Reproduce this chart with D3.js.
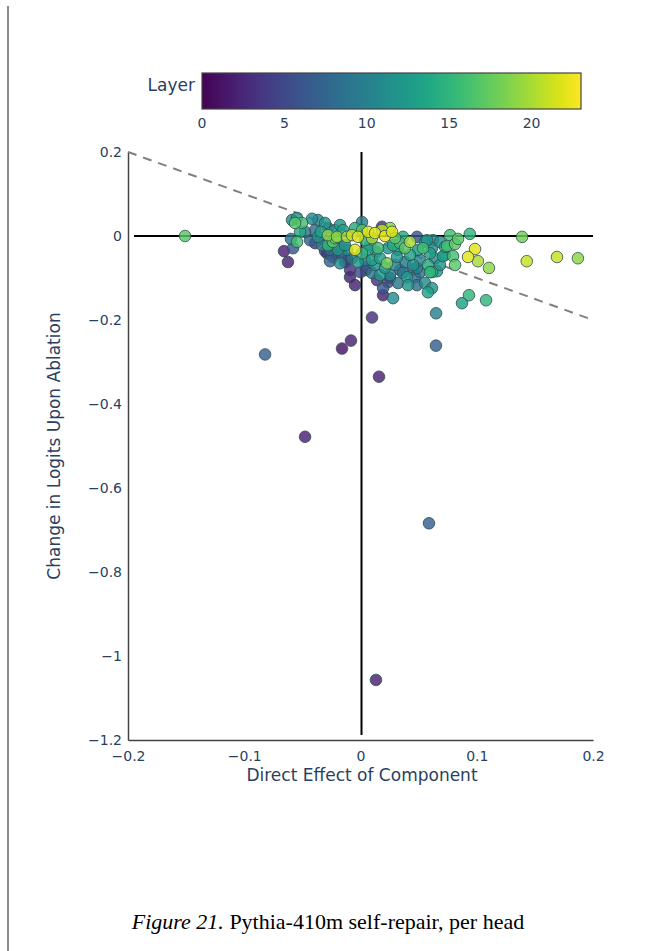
<!DOCTYPE html>
<html>
<head>
<meta charset="utf-8">
<script src="https://cdn.jsdelivr.net/npm/d3@7"></script>
<style>
  body { margin: 0; background: #fff; }
  .plot text { font-family: "DejaVu Sans", sans-serif; }
</style>
</head>
<body>
<div id="chart"></div>
<script>
// direct effect (x), change in logits (y), layer of each head
var xVals = [
  -0.151, -0.0821, -0.0477, -0.0159, -0.0082, 0.0099, 0.0159, 0.0589, 0.0133, 0.0649,
  0.065, 0.139, 0.143, 0.169, 0.187, 0.0985, 0.0925, 0.101, 0.1105, 0.0933,
  0.0873, 0.108, 0.077, 0.094, 0.0744, 0.0813, 0.0796, 0.071, 0.0624, 0.0615,
  0.0615, 0.0658, 0.0615, 0.058, 0.0839,
  -0.0546, -0.0563, -0.0503, -0.0589, -0.0598, -0.0546, -0.058, -0.0658, -0.0624,
  -0.0417, -0.0366, -0.0305, -0.0391, -0.034, -0.028, -0.0202, -0.015, -0.0116, -0.0073,
  -0.0022, 0.0013, -0.0047, -0.0391, -0.0331, -0.028, -0.0237, -0.0176, -0.0288, -0.0237,
  -0.0159, -0.0116, -0.0047, 0.0013, -0.009, 0.0, -0.0047, 0.0039, -0.0176, -0.0219,
  -0.028,
  0.0065, 0.0125, 0.0211, 0.0271, 0.0185, 0.0099, 0.0297, 0.0366, 0.0426, 0.0486,
  0.0555, 0.0727, 0.0727, 0.0065, 0.0151, 0.0237, 0.0323, 0.0383, 0.0495, 0.0538,
  0.0598, 0.0641, 0.0099, 0.0168, 0.0228, 0.0314, 0.0383, 0.0452, 0.0486, 0.0598,
  0.0099, 0.0168, 0.0254, 0.034, 0.04, 0.0469, 0.0142, 0.0237, 0.0486, 0.0555,
  0.0194, 0.028, 0.0813, 0.0185, 0.0512, 0.058, 0.0572, 0.0684,
  -0.0477, -0.0434, -0.0366, -0.0262, -0.0194, -0.0133, -0.0073, -0.0022, -0.0133, -0.0219,
  -0.0176, 0.0082, 0.0039, 0.0133, 0.028, 0.034, 0.0426, 0.0211, 0.0297, 0.0056,
  0.0125, 0.0409, 0.0323, 0.0512, 0.0684, -0.052, -0.0305, 0.0013, 0.0254,
  -0.0305, -0.0219, -0.0116, -0.0262, -0.009, 0.0047, 0.0194, 0.0254, 0.0366, 0.0452
];
var yVals = [
  0.000, -0.282, -0.478, -0.268, -0.249, -0.194, -0.335, -0.684, -1.057, -0.261,
  -0.184, -0.002, -0.060, -0.050, -0.053, -0.031, -0.050, -0.060, -0.076, -0.141,
  -0.160, -0.153, 0.002, 0.005, -0.024, -0.019, -0.048, -0.048, -0.010, -0.029,
  -0.086, -0.084, -0.124, -0.134, -0.007,
  0.043, 0.031, 0.031, 0.038, -0.007, -0.014, -0.029, -0.036, -0.062,
  0.041, 0.038, 0.031, 0.014, 0.010, 0.002, -0.002, 0.014, -0.002, 0.002,
  -0.002, 0.033, 0.019, -0.017, -0.022, -0.022, -0.014, -0.026, -0.041, -0.050,
  -0.045, -0.033, -0.033, -0.041, -0.081, -0.086, -0.117, -0.057, -0.065, -0.005,
  0.019,
  0.010, 0.007, 0.000, 0.010, 0.014, -0.005, -0.005, -0.002, -0.014, -0.002,
  -0.014, -0.026, -0.045, -0.033, -0.029, -0.029, -0.033, -0.029, -0.033, -0.029,
  -0.041, -0.053, -0.057, -0.053, -0.065, -0.050, -0.062, -0.069, -0.076, -0.086,
  -0.088, -0.093, -0.093, -0.081, -0.098, -0.098, -0.105, -0.110, -0.117, -0.112,
  -0.141, -0.148, -0.069, 0.022, -0.086, -0.069, -0.010, -0.014,
  0.010, -0.010, -0.002, -0.033, -0.033, -0.022, -0.053, -0.062, -0.062, 0.014,
  0.026, -0.022, -0.010, -0.038, -0.022, -0.017, -0.045, -0.076, -0.069, -0.074,
  -0.069, -0.117, -0.112, -0.057, -0.069, 0.010, -0.010, 0.014, 0.019,
  -0.036, -0.043, -0.055, -0.060, -0.098, -0.081, -0.124, -0.100, -0.088, -0.079
];
var layers = [
  17, 7, 2, 1, 2, 3, 2, 7, 2, 7,
  10, 18, 21, 21, 19, 22, 22, 20, 19, 15,
  13, 15, 16, 15, 16, 17, 16, 13, 11, 11,
  15, 12, 12, 13, 17,
  12, 17, 16, 11, 9, 16, 6, 2, 2,
  11, 10, 12, 8, 13, 19, 19, 13, 20, 21,
  22, 10, 14, 3, 10, 15, 17, 9, 2, 6,
  6, 11, 22, 15, 3, 5, 2, 10, 11, 18,
  10,
  22, 22, 22, 22, 21, 20, 17, 14, 20, 6,
  12, 14, 12, 13, 16, 12, 12, 17, 12, 16,
  13, 11, 13, 13, 18, 12, 9, 12, 10, 15,
  9, 12, 11, 7, 12, 8, 3, 5, 8, 11,
  2, 11, 17, 3, 8, 14, 12, 11,
  9, 7, 12, 8, 12, 12, 9, 12, 4, 11,
  12, 12, 15, 10, 14, 16, 13, 12, 10, 6,
  11, 12, 9, 10, 12, 14, 8, 17, 19,
  4, 3, 1, 7, 2, 4, 6, 3, 9, 5
];
var xTicks = [-0.2, -0.1, 0, 0.1, 0.2];
var yTicks = [0.2, 0, -0.2, -0.4, -0.6, -0.8, -1, -1.2];
var layerTicks = [0, 5, 10, 15, 20];

var W = 655, H = 951;
var txt = "#2a3f5f";

var svg = d3.select("#chart").append("svg")
  .attr("width", W).attr("height", H);

// page border on the left
svg.append("line")
  .attr("x1", 8).attr("x2", 8).attr("y1", 6).attr("y2", H)
  .attr("stroke", "#666").attr("stroke-width", 1.5);

var plot = svg.append("g").attr("class", "plot");

var x = d3.scaleLinear().domain([-0.2, 0.2]).range([128, 593]);
var y = d3.scaleLinear().domain([0.2, -1.2]).range([152, 740]);
var color = d3.scaleSequential(d3.interpolateViridis).domain([0, 23]);

function fmt(v) {
  if (v == 0) return "0";
  return (v < 0 ? "\u2212" : "") + String(Math.abs(v));
}

// axes
var gx = plot.append("g").attr("transform", "translate(0," + y(-1.2) + ")")
  .call(d3.axisBottom(x).tickValues(xTicks).tickFormat(fmt).tickSize(0).tickPadding(11));
var gy = plot.append("g").attr("transform", "translate(" + x(-0.2) + ",0)")
  .call(d3.axisLeft(y).tickValues(yTicks).tickFormat(fmt).tickSize(0).tickPadding(6));
[gx, gy].forEach(function(g) {
  g.select(".domain").attr("stroke", "#444").attr("stroke-width", 1.5);
  g.selectAll("text").attr("fill", txt).attr("font-size", 14);
});

// zero lines
plot.append("line")
  .attr("x1", x(-0.2) + 6).attr("x2", x(0.2))
  .attr("y1", y(0)).attr("y2", y(0))
  .attr("stroke", "#000").attr("stroke-width", 2);
plot.append("line")
  .attr("x1", x(0) + 1).attr("x2", x(0) + 1)
  .attr("y1", y(0.2)).attr("y2", y(-1.2) - 5)
  .attr("stroke", "#000").attr("stroke-width", 2);

// y = -x reference
plot.append("line")
  .attr("x1", x(-0.2)).attr("y1", y(0.2))
  .attr("x2", x(0.2)).attr("y2", y(-0.2))
  .attr("stroke", "#808080").attr("stroke-width", 2)
  .attr("stroke-dasharray", "9,7");

// points, later layers on top
var pts = d3.range(xVals.length).map(function(i) {
  return { x: xVals[i], y: yVals[i], layer: layers[i] };
});
pts.sort(function(a, b) { return a.layer - b.layer; });

plot.append("g").selectAll("circle")
  .data(pts)
  .enter().append("circle")
  .attr("cx", function(d) { return x(d.x); })
  .attr("cy", function(d) { return y(d.y); })
  .attr("r", 5.8)
  .attr("fill", function(d) { return color(d.layer); })
  .attr("fill-opacity", 0.82)
  .attr("stroke", "darkslategrey")
  .attr("stroke-opacity", 0.8)
  .attr("stroke-width", 1);

// axis titles
plot.append("text")
  .attr("x", 362).attr("y", 781)
  .attr("text-anchor", "middle").attr("fill", txt).attr("font-size", 17)
  .text("Direct Effect of Component");
plot.append("text")
  .attr("transform", "translate(60," + 446 + ") rotate(-90)")
  .attr("text-anchor", "middle").attr("fill", txt).attr("font-size", 17)
  .text("Change in Logits Upon Ablation");

// colorbar
var cb = d3.scaleLinear().domain([0, 23]).range([202, 581]);
var defs = svg.append("defs");
var grad = defs.append("linearGradient").attr("id", "viridis");
d3.range(0, 1.0001, 0.05).forEach(function(t) {
  grad.append("stop").attr("offset", (t * 100) + "%")
    .attr("stop-color", d3.interpolateViridis(t));
});
plot.append("rect")
  .attr("x", cb(0)).attr("y", 73)
  .attr("width", cb(23) - cb(0)).attr("height", 36)
  .attr("fill", "url(#viridis)")
  .attr("stroke", "#444").attr("stroke-width", 1.2);
plot.append("g").selectAll("text")
  .data(layerTicks)
  .enter().append("text")
  .attr("x", function(d) { return cb(d); })
  .attr("y", 128)
  .attr("text-anchor", "middle").attr("fill", txt).attr("font-size", 14)
  .text(function(d) { return d; });
plot.append("text")
  .attr("x", 195).attr("y", 91)
  .attr("text-anchor", "end").attr("fill", txt).attr("font-size", 17)
  .text("Layer");

// caption
var cap = svg.append("text")
  .attr("x", 328).attr("y", 929)
  .attr("text-anchor", "middle")
  .style("font-family", "'Liberation Serif', 'Times New Roman', serif")
  .attr("font-size", 22).attr("fill", "#000");
cap.append("tspan").attr("font-style", "italic").text("Figure 21.");
cap.append("tspan").text(" Pythia-410m self-repair, per head");
</script>
</body>
</html>
